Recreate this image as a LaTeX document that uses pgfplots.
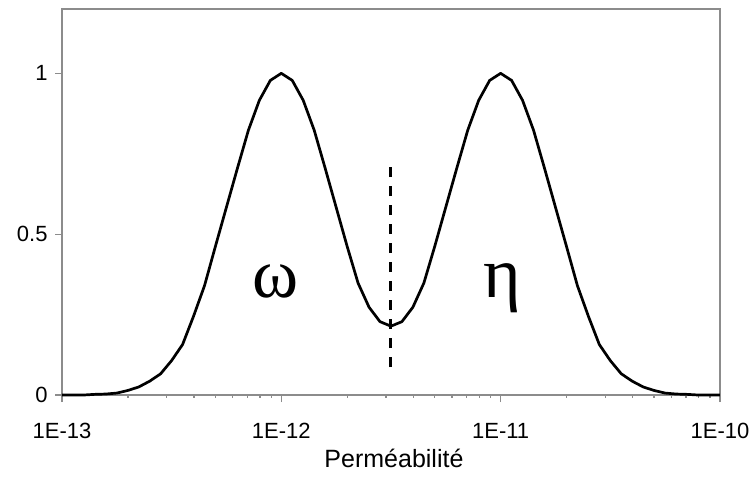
\documentclass[border=0pt]{standalone}
\usepackage{pgfplots}
\pgfplotsset{compat=1.18}
\usepackage{fontspec}
\setmainfont{Liberation Sans}
\newfontfamily\greekfont{Liberation Serif}

\begin{document}
\begin{tikzpicture}
\useasboundingbox (-62pt,-82pt) rectangle (693pt,395pt);
\begin{axis}[
    at={(0,0)}, anchor=south west,
    scale only axis,
    width=658pt, height=386pt,
    xmode=log,
    xmin=1e-13, xmax=1e-10,
    ymin=0, ymax=1.2,
    axis line style={draw=gray!90, line width=1.2pt},
    xtick={1e-13,1e-12,1e-11,1e-10},
    xticklabels={1E-13,1E-12,1E-11,1E-10},
    ytick={0,0.5,1},
    yticklabels={0,0.5,1},
    minor xtick={},
    log ticks with fixed point=false,
    xtick pos=bottom, ytick pos=left,
    tick align=outside,
    major tick length=7pt,
    tick style={draw=gray!90, line width=1.2pt},
    ticklabel style={font=\fontsize{22}{26}\selectfont},
    yticklabel style={xshift=-4pt},
    xticklabel style={yshift=-18pt},
    xlabel={Perméabilité},
    xlabel style={font=\fontsize{25}{30}\selectfont, at={(axis description cs:0.5,0)}, anchor=base, yshift=-72pt, xshift=3pt},
    clip=false,
]
\addplot[black, line width=2.7pt, line join=round] coordinates {
(1e-13,0) (1.122e-13,0) (1.259e-13,0) (1.413e-13,0.002) (1.585e-13,0.003)
(1.778e-13,0.006) (1.995e-13,0.014) (2.239e-13,0.025) (2.512e-13,0.043) (2.818e-13,0.066)
(3.162e-13,0.107) (3.548e-13,0.157) (3.981e-13,0.245) (4.467e-13,0.34) (5.012e-13,0.463)
(5.623e-13,0.584) (6.310e-13,0.705) (7.079e-13,0.823) (7.943e-13,0.916) (8.913e-13,0.978)
(1e-12,1.000) (1.122e-12,0.978) (1.259e-12,0.916) (1.413e-12,0.823) (1.585e-12,0.705)
(1.778e-12,0.584) (1.995e-12,0.463) (2.239e-12,0.348) (2.512e-12,0.273) (2.818e-12,0.228)
(3.162e-12,0.214) (3.548e-12,0.228) (3.981e-12,0.273) (4.467e-12,0.348) (5.012e-12,0.463)
(5.623e-12,0.584) (6.310e-12,0.705) (7.079e-12,0.823) (7.943e-12,0.916) (8.913e-12,0.978)
(1e-11,1.000) (1.122e-11,0.978) (1.259e-11,0.916) (1.413e-11,0.823) (1.585e-11,0.705)
(1.778e-11,0.584) (1.995e-11,0.463) (2.239e-11,0.34) (2.512e-11,0.245) (2.818e-11,0.157)
(3.162e-11,0.107) (3.548e-11,0.066) (3.981e-11,0.043) (4.467e-11,0.025) (5.012e-11,0.014)
(5.623e-11,0.006) (6.310e-11,0.003) (7.079e-11,0.002) (7.943e-11,0) (8.913e-11,0)
(1e-10,0)
};
\addplot[black, line width=3pt, dash pattern=on 10pt off 9pt] coordinates {(3.162e-12,0.087) (3.162e-12,0.73)};
\node[anchor=base, font=\greekfont\fontsize{70}{76}\selectfont] at (axis cs:9.40e-13,0.304) {ω};
\node[anchor=base, font=\greekfont\fontsize{72}{78}\selectfont] at (axis cs:1.02e-11,0.304) {η};
\end{axis}
\end{tikzpicture}
\end{document}
